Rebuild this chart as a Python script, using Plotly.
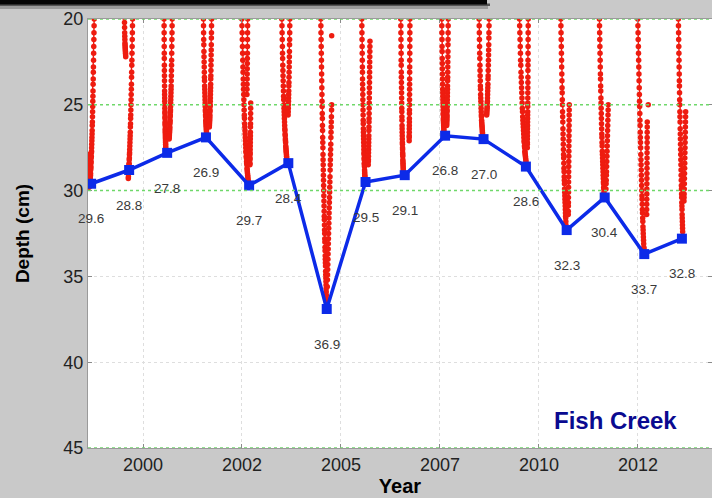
import numpy as np
import plotly.graph_objects as go

# ---- annual deepest water level (blue squares) ----
min_years = [1998.69, 1999.65, 2000.61, 2001.59, 2002.68, 2003.67, 2004.64, 2005.62,
             2006.61, 2007.63, 2008.60, 2009.67, 2010.70, 2011.66, 2012.66, 2013.61]
min_depths = [29.6, 28.8, 27.8, 26.9, 29.7, 28.4, 36.9, 29.5,
              29.1, 26.8, 27.0, 28.6, 32.3, 30.4, 33.7, 32.8]

# ---- x tick positions / labels ----
tick_years = [2000.0, 2002.5, 2005.0, 2007.5, 2010.0, 2012.5]
tick_labels = ["2000", "2002", "2005", "2007", "2010", "2012"]
depth_ticks = [20, 25, 30, 35, 40, 45]

# ---- logger records: (first sample date, last sample date, depths) ----
season_1998 = [
    (1998.770, 1998.662, [19.6, 20.0, 20.4, 20.8, 21.2, 21.6, 22.0, 22.4, 22.8, 23.1, 23.5, 23.8,
                          24.2, 24.5, 24.8, 25.1, 25.4, 25.7, 26.0, 26.2, 26.5, 26.7, 26.9, 27.1,
                          27.3, 27.5, 27.7, 27.8, 28.0, 28.1, 28.3, 28.4, 28.6, 28.7, 28.8, 29.0,
                          29.1, 29.2, 29.3, 29.4, 29.5]),
    (1998.616, 1998.640, [27.9, 28.1, 28.3, 28.4, 28.6, 28.7, 28.9, 29.0, 29.2, 29.3, 29.5, 29.6, 29.8]),
]
season_1999 = [
    (1999.528, 1999.563, [19.6, 19.9, 20.2, 20.5, 20.8, 21.0, 21.2, 21.4, 21.5, 21.6, 21.7, 21.8,
                          21.9, 22.0, 22.1, 22.2]),
    (1999.740, 1999.629, [19.6, 20.0, 20.4, 20.8, 21.2, 21.6, 22.0, 22.4, 22.7, 23.1, 23.4, 23.8,
                          24.1, 24.4, 24.7, 25.0, 25.3, 25.6, 25.8, 26.1, 26.3, 26.6, 26.8, 27.0,
                          27.2, 27.4, 27.6, 27.8, 27.9, 28.1, 28.2, 28.4, 28.5, 28.6, 28.8, 28.9,
                          29.0, 29.2, 29.3]),
]
season_2000 = [
    (2000.530, 2000.575, [19.6, 20.0, 20.4, 20.8, 21.2, 21.6, 22.0, 22.3, 22.7, 23.0, 23.3, 23.6,
                          23.9, 24.2, 24.4, 24.6, 24.8, 25.0, 25.2, 25.4, 25.5, 25.7, 25.8, 26.0,
                          26.1, 26.2, 26.4, 26.5, 26.6, 26.7, 26.8, 26.9, 27.0, 27.1, 27.2, 27.3,
                          27.4, 27.5, 27.6]),
    (2000.740, 2000.660, [19.6, 20.0, 20.4, 20.8, 21.2, 21.6, 22.0, 22.4, 22.7, 23.0, 23.3, 23.6,
                          23.9, 24.1, 24.3, 24.5, 24.7, 24.9, 25.1, 25.3, 25.4, 25.6, 25.7, 25.9,
                          26.0, 26.1, 26.3, 26.4, 26.5, 26.6, 26.7, 26.8, 26.9, 27.0]),
]
season_2001 = [
    (2001.523, 2001.609, [19.6, 20.0, 20.4, 20.8, 21.2, 21.5, 21.9, 22.2, 22.5, 22.8, 23.1, 23.4,
                          23.6, 23.9, 24.1, 24.3, 24.5, 24.7, 24.9, 25.1, 25.3, 25.4, 25.6, 25.7,
                          25.9, 26.0, 26.1, 26.2, 26.3, 26.4, 26.5, 26.6, 26.7, 26.75]),
    (2001.735, 2001.675, [19.6, 20.0, 20.4, 20.8, 21.1, 21.5, 21.8, 22.1, 22.4, 22.7, 23.0, 23.3,
                          23.5, 23.8, 24.0, 24.2, 24.4, 24.6, 24.8, 25.0, 25.1, 25.3, 25.4, 25.6,
                          25.7, 25.8, 25.9, 26.0, 26.1, 26.2, 26.3]),
]
season_2002 = [
    (2002.492, 2002.659, [19.6, 20.0, 20.4, 20.8, 21.2, 21.6, 22.0, 22.4, 22.8, 23.1, 23.5, 23.8,
                          24.1, 24.4, 24.7, 25.0, 25.3, 25.6, 25.8, 26.1, 26.3, 26.5, 26.7, 26.9,
                          27.1, 27.3, 27.5, 27.7, 27.8, 28.0, 28.1, 28.3, 28.4, 28.5, 28.7, 28.8,
                          28.9, 29.0, 29.1, 29.2, 29.3, 29.4, 29.5]),
    (2002.645, 2002.625, [19.6, 20.0, 20.4, 20.8, 21.2, 21.6, 22.0, 22.3, 22.6, 22.9, 23.2, 23.5,
                          23.8, 24.1, 24.4]),
    (2002.720, 2002.700, [24.9, 25.2, 25.5, 25.8, 26.1, 26.3, 26.6, 26.8, 27.0, 27.2, 27.4, 27.6,
                          27.8, 27.9, 28.1, 28.2, 28.4, 28.5]),
]
season_2003 = [
    (2003.503, 2003.629, [19.6, 20.0, 20.4, 20.8, 21.2, 21.6, 22.0, 22.3, 22.7, 23.0, 23.3, 23.6,
                          23.9, 24.2, 24.5, 24.7, 25.0, 25.2, 25.4, 25.6, 25.8, 26.0, 26.2, 26.4,
                          26.5, 26.7, 26.8, 27.0, 27.1, 27.2, 27.4, 27.5, 27.6, 27.7, 27.8, 27.9,
                          28.0, 28.1]),
    (2003.712, 2003.665, [19.6, 20.0, 20.4, 20.8, 21.2, 21.5, 21.9, 22.2, 22.5, 22.8, 23.1, 23.4,
                          23.7, 23.9, 24.2, 24.4, 24.6, 24.8, 25.0, 25.2, 25.4, 25.6]),
]
season_2004 = [
    (2004.487, 2004.639, [19.6, 20.0, 20.4, 20.8, 21.2, 21.6, 22.0, 22.4, 22.8, 23.2, 23.6, 24.0,
                          24.4, 24.8, 25.1, 25.5, 25.8, 26.2, 26.5, 26.9, 27.2, 27.5, 27.9, 28.2,
                          28.5, 28.8, 29.1, 29.4, 29.7, 30.0, 30.3, 30.6, 30.9, 31.2, 31.5, 31.7,
                          32.0, 32.3, 32.5, 32.8, 33.0, 33.3, 33.5, 33.8, 34.0, 34.2, 34.4, 34.7,
                          34.9, 35.1, 35.3, 35.5, 35.7, 35.9, 36.1, 36.3, 36.5, 36.75]),
    (2004.765, 2004.654, [25.0, 25.3, 25.7, 26.0, 26.3, 26.6, 26.9, 27.3, 27.6, 27.9, 28.2, 28.5,
                          28.8, 29.2, 29.5, 29.8, 30.1, 30.4, 30.7, 31.0, 31.3, 31.6, 31.9, 32.2,
                          32.5, 32.8, 33.1, 33.4, 33.7, 34.0, 34.3, 34.6, 34.9, 35.2, 35.6]),
    (2004.765, 2004.765, [20.97]),
]
season_2005 = [
    (2005.523, 2005.606, [19.6, 20.0, 20.4, 20.8, 21.2, 21.6, 22.0, 22.4, 22.8, 23.1, 23.5, 23.8,
                          24.1, 24.4, 24.7, 25.0, 25.3, 25.6, 25.9, 26.1, 26.4, 26.6, 26.8, 27.0,
                          27.2, 27.4, 27.6, 27.8, 27.9, 28.1, 28.2, 28.4, 28.5, 28.6, 28.8, 28.9,
                          29.0, 29.1, 29.2, 29.3]),
    (2005.732, 2005.689, [21.3, 21.6, 21.9, 22.2, 22.5, 22.8, 23.1, 23.4, 23.7, 24.0, 24.3, 24.6,
                          24.9, 25.2, 25.5, 25.8, 26.0, 26.3, 26.5, 26.8, 27.0, 27.2, 27.4, 27.6,
                          27.8, 28.0, 28.2, 28.3, 28.5]),
]
season_2006 = [
    (2006.508, 2006.573, [19.6, 20.0, 20.4, 20.8, 21.2, 21.6, 22.0, 22.4, 22.7, 23.1, 23.4, 23.7,
                          24.0, 24.3, 24.6, 24.9, 25.2, 25.4, 25.7, 25.9, 26.2, 26.4, 26.6, 26.8,
                          27.0, 27.2, 27.3, 27.5, 27.6, 27.8, 27.9, 28.0, 28.2, 28.3, 28.4, 28.5,
                          28.6, 28.7, 28.8]),
    (2006.742, 2006.722, [19.6, 20.0, 20.4, 20.8, 21.2, 21.6, 22.0, 22.4, 22.8, 23.1, 23.5, 23.8,
                          24.1, 24.4, 24.7, 25.0, 25.3, 25.5, 25.8, 26.0, 26.2, 26.4, 26.6, 26.8,
                          26.9, 27.1]),
]
season_2007 = [
    (2007.543, 2007.601, [19.6, 20.0, 20.4, 20.8, 21.2, 21.6, 21.9, 22.3, 22.6, 22.9, 23.2, 23.5,
                          23.8, 24.1, 24.3, 24.5, 24.7, 24.9, 25.1, 25.3, 25.5, 25.6, 25.8, 25.9,
                          26.0, 26.1, 26.2, 26.3, 26.4, 26.5, 26.6]),
    (2007.710, 2007.669, [19.6, 20.0, 20.4, 20.8, 21.2, 21.5, 21.9, 22.2, 22.5, 22.8, 23.1, 23.4,
                          23.6, 23.9, 24.1, 24.3, 24.5, 24.7, 24.9, 25.1, 25.3, 25.4, 25.6, 25.7,
                          25.8, 25.9, 26.0, 26.1, 26.2]),
]
season_2008 = [
    (2008.485, 2008.578, [19.6, 20.0, 20.4, 20.8, 21.2, 21.6, 22.0, 22.3, 22.7, 23.0, 23.3, 23.6,
                          23.9, 24.1, 24.4, 24.6, 24.8, 25.0, 25.2, 25.4, 25.6, 25.7, 25.9, 26.0,
                          26.1, 26.2, 26.3, 26.4, 26.5, 26.6, 26.7, 26.8]),
    (2008.745, 2008.679, [19.6, 20.0, 20.4, 20.8, 21.1, 21.5, 21.8, 22.1, 22.4, 22.7, 23.0, 23.3,
                          23.5, 23.8, 24.0, 24.2, 24.4, 24.6, 24.8, 24.9, 25.1, 25.2, 25.3, 25.4,
                          25.5, 25.6]),
]
season_2009 = [
    (2009.503, 2009.672, [19.6, 20.0, 20.4, 20.8, 21.2, 21.6, 22.0, 22.4, 22.7, 23.1, 23.4, 23.7,
                          24.0, 24.3, 24.6, 24.9, 25.2, 25.4, 25.7, 25.9, 26.1, 26.3, 26.5, 26.7,
                          26.9, 27.1, 27.2, 27.4, 27.5, 27.7, 27.8, 27.9, 28.0, 28.1, 28.2, 28.3]),
    (2009.730, 2009.705, [19.6, 20.0, 20.4, 20.8, 21.2, 21.6, 22.0, 22.4, 22.7, 23.0, 23.4, 23.7,
                          24.0, 24.3, 24.6, 24.9, 25.1, 25.4, 25.6, 25.8, 26.0, 26.2, 26.4, 26.6,
                          26.8, 27.0, 27.2, 27.3, 27.5]),
]
season_2010 = [
    (2010.548, 2010.682, [19.6, 20.0, 20.4, 20.8, 21.2, 21.6, 22.0, 22.4, 22.8, 23.2, 23.6, 24.0,
                          24.3, 24.7, 25.0, 25.4, 25.7, 26.0, 26.4, 26.7, 27.0, 27.3, 27.6, 27.9,
                          28.1, 28.4, 28.7, 28.9, 29.2, 29.4, 29.6, 29.9, 30.1, 30.3, 30.5, 30.7,
                          30.9, 31.1, 31.3, 31.5, 31.6, 31.8, 32.0]),
    (2010.765, 2010.740, [25.0, 25.3, 25.6, 25.9, 26.2, 26.5, 26.8, 27.1, 27.4, 27.7, 28.0, 28.3,
                          28.6, 28.9, 29.2, 29.5, 29.8, 30.1, 30.4, 30.7, 30.9, 31.2, 31.4]),
]
season_2011 = [
    (2011.523, 2011.641, [19.6, 20.0, 20.4, 20.8, 21.2, 21.6, 22.0, 22.4, 22.8, 23.2, 23.5, 23.9,
                          24.2, 24.6, 24.9, 25.2, 25.5, 25.8, 26.1, 26.4, 26.7, 26.9, 27.2, 27.4,
                          27.7, 27.9, 28.1, 28.3, 28.5, 28.7, 28.9, 29.1, 29.3, 29.5, 29.6, 29.8,
                          29.9, 30.1]),
    (2011.750, 2011.692, [25.0, 25.3, 25.6, 25.9, 26.2, 26.5, 26.8, 27.1, 27.4, 27.7, 28.0, 28.3,
                          28.6, 28.9, 29.1, 29.4, 29.6, 29.9]),
]
season_2012 = [
    (2012.492, 2012.652, [19.6, 20.0, 20.4, 20.8, 21.2, 21.6, 22.0, 22.4, 22.8, 23.2, 23.6, 24.0,
                          24.4, 24.8, 25.1, 25.5, 25.9, 26.2, 26.6, 26.9, 27.2, 27.5, 27.9, 28.2,
                          28.5, 28.8, 29.1, 29.4, 29.7, 30.0, 30.3, 30.5, 30.8, 31.1, 31.3, 31.6,
                          31.8, 32.1, 32.3, 32.5, 32.7, 32.9, 33.1, 33.3, 33.4]),
    (2012.735, 2012.720, [26.0, 26.3, 26.6, 26.9, 27.2, 27.5, 27.8, 28.1, 28.4, 28.7, 29.0, 29.3,
                          29.6, 29.9, 30.2, 30.5, 30.8, 31.1, 31.4]),
    (2012.760, 2012.760, [25.0]),
]
season_2013 = [
    (2013.518, 2013.629, [19.6, 20.0, 20.4, 20.8, 21.2, 21.6, 22.0, 22.4, 22.8, 23.2, 23.6, 23.9,
                          24.3, 24.7, 25.0, 25.4, 25.7, 26.0, 26.4, 26.7, 27.0, 27.3, 27.6, 27.9,
                          28.2, 28.5, 28.8, 29.1, 29.4, 29.7, 29.9, 30.2, 30.4, 30.7, 30.9, 31.1,
                          31.4, 31.6, 31.8, 32.0, 32.2, 32.4]),
    (2013.705, 2013.662, [25.4, 25.7, 26.0, 26.3, 26.6, 26.9, 27.2, 27.5, 27.8, 28.1, 28.4, 28.7,
                          29.0, 29.3, 29.6, 29.9, 30.2, 30.4, 30.6]),
]

seasons = [season_1998, season_1999, season_2000, season_2001, season_2002, season_2003,
           season_2004, season_2005, season_2006, season_2007, season_2008, season_2009,
           season_2010, season_2011, season_2012, season_2013]

RED = "#ee1c10"
BLUE = "#0c2ae8"

fig = go.Figure()

# continuous record: red dots joined by thin lines, one trace per logger run
for season in seasons:
    for first, last, depths in season:
        n = len(depths)
        dates = [first + (last - first) * i / max(n - 1, 1) for i in range(n)]
        fig.add_trace(go.Scatter(
            x=dates, y=depths, mode="lines+markers",
            line=dict(color=RED, width=1.4),
            marker=dict(color=RED, size=5.5),
            showlegend=False, hoverinfo="skip",
        ))

# annual deepest level
fig.add_trace(go.Scatter(
    x=min_years, y=min_depths, mode="lines+markers",
    line=dict(color=BLUE, width=3.5),
    marker=dict(color=BLUE, size=10, symbol="square"),
    showlegend=False,
))

annotations = []
for yr, d in zip(min_years, min_depths):
    annotations.append(dict(
        x=yr, y=d + 2.05, xref="x", yref="y", text=f"{d:.1f}",
        showarrow=False, xanchor="center", yanchor="middle",
        font=dict(family="Liberation Sans, Arial, sans-serif", size=13.5, color="#3a3a3a"),
    ))
annotations.append(dict(
    x=0.846, y=0.064, xref="paper", yref="paper", text="<b>Fish Creek</b>",
    showarrow=False, xanchor="center", yanchor="middle",
    font=dict(family="Liberation Sans, Arial, sans-serif", size=24, color="#0a0a90"),
))

shapes = []
# green reference lines
for lvl in [20, 25, 30, 45]:
    shapes.append(dict(type="line", xref="paper", yref="y", x0=0, x1=1, y0=lvl, y1=lvl,
                       line=dict(color="#6fd86a", width=1.5, dash="dot"), layer="above"))
# slide title bar peeking in at the top
plot_h = 429.3
def py(p):
    return (448.3 - p) / plot_h
def px(p):
    return (p - 88) / 624.0
shapes.append(dict(type="rect", xref="paper", yref="paper", x0=px(0), x1=px(488),
                   y0=py(9), y1=py(4), fillcolor="#9a9a9a", line=dict(width=0), layer="above"))
shapes.append(dict(type="rect", xref="paper", yref="paper", x0=px(0), x1=px(490),
                   y0=py(6), y1=py(3.5), fillcolor="#555555", line=dict(width=0), layer="above"))
shapes.append(dict(type="rect", xref="paper", yref="paper", x0=px(0), x1=px(487),
                   y0=py(4.5), y1=py(0), fillcolor="#050505", line=dict(width=0), layer="above"))

tick_font = dict(family="Liberation Sans, Arial, sans-serif", size=18, color="#222222")
title_font = dict(family="Liberation Sans, Arial, sans-serif", size=20, color="#000000")

fig.update_layout(
    width=712, height=498,
    margin=dict(l=88, r=0, t=19, b=50),
    paper_bgcolor="#c9c9c9",
    plot_bgcolor="#ffffff",
    annotations=annotations,
    shapes=shapes,
    xaxis=dict(
        range=[1998.611, 2014.37], tickmode="array", tickvals=tick_years, ticktext=tick_labels,
        showgrid=True, gridcolor="#dedede", griddash="dot", gridwidth=1,
        ticks="inside", ticklen=4, tickcolor="#8a8a8a",
        showline=True, linecolor="#9a9a9a", mirror="ticks", zeroline=False,
        tickfont=tick_font,
        title=dict(text="<b>Year</b>", font=title_font, standoff=2),
    ),
    yaxis=dict(
        range=[45, 20], tickmode="array", tickvals=depth_ticks,
        showgrid=True, gridcolor="#dedede", griddash="dot", gridwidth=1,
        ticks="inside", ticklen=4, tickcolor="#8a8a8a",
        showline=True, linecolor="#9a9a9a", mirror="ticks", zeroline=False,
        tickfont=tick_font,
        title=dict(text="<b>Depth (cm)</b>", font=dict(family="Liberation Sans, Arial, sans-serif",
                                                      size=19, color="#000000"), standoff=28),
    ),
)

fig.write_html("out.html")
